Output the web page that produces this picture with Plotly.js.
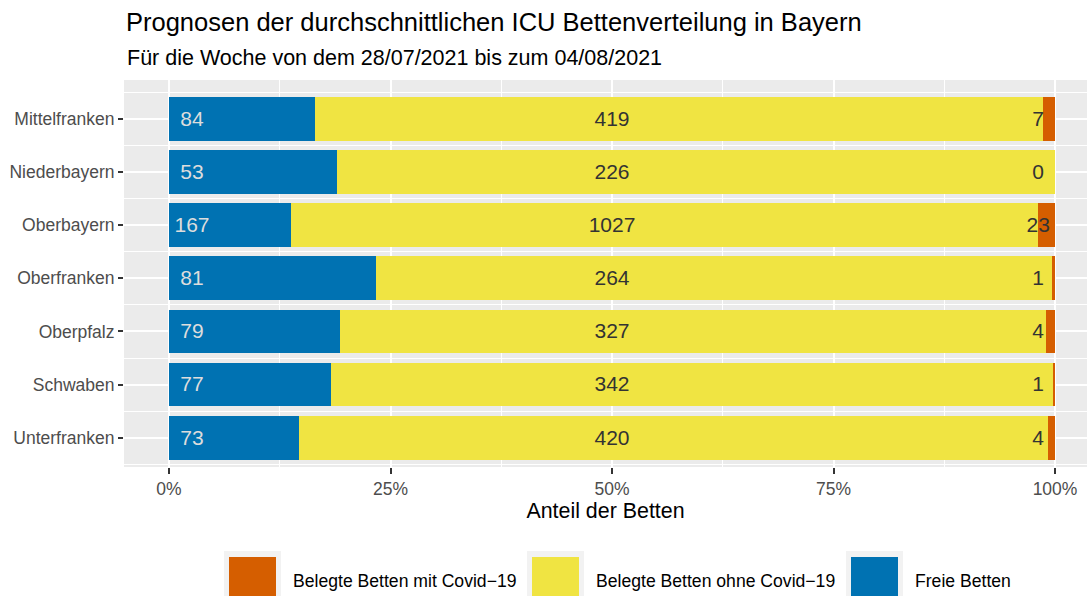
<!DOCTYPE html>
<html>
<head>
<meta charset="utf-8">
<script src="https://cdn.plot.ly/plotly-3.0.1.min.js"></script>
<style>html,body{margin:0;padding:0;background:#fff;}#chart{width:1087px;height:596px;}</style>
</head>
<body>
<div id="chart"></div>
<script>
// Data
const regions = ["Mittelfranken","Niederbayern","Oberbayern","Oberfranken","Oberpfalz","Schwaben","Unterfranken"];
const freieBetten = [84, 53, 167, 81, 79, 77, 73];
const belegteOhneCovid = [419, 226, 1027, 264, 327, 342, 420];
const belegteMitCovid = [7, 0, 23, 1, 4, 1, 4];
const xTickVals = [0, 0.25, 0.5, 0.75, 1];
const legendLabels = ["Belegte Betten mit Covid\u221219", "Belegte Betten ohne Covid\u221219", "Freie Betten"];

const colBlue = "#0072B2", colYellow = "#F0E442", colOrange = "#D55E00";
const W = 1087, H = 596;
const M = {l: 124, r: 0, t: 80, b: 129};
const pw = W - M.l - M.r, ph = H - M.t - M.b;
const px = x => (x - M.l) / pw;
const py = y => (H - M.b - y) / ph;

const idx = regions.map((_, i) => i);
const font = "Liberation Sans, Arial, Helvetica, sans-serif";

function barTrace(vals, name, color) {
  return {type: "bar", orientation: "h", x: vals, y: idx, name: name,
    marker: {color: color, line: {width: 0}}, width: 0.82, hoverinfo: "x+name", showlegend: false};
}
function textTrace(xpos, vals, color) {
  return {type: "scatter", mode: "text", x: idx.map(() => xpos), y: idx.map(i => i + 0.03),
    text: vals.map(String), textposition: "middle center",
    textfont: {family: font, size: 21, color: color},
    hoverinfo: "skip", showlegend: false, cliponaxis: false};
}

const data = [
  barTrace(freieBetten, legendLabels[2], colBlue),
  barTrace(belegteOhneCovid, legendLabels[1], colYellow),
  barTrace(belegteMitCovid, legendLabels[0], colOrange),
  textTrace(0.026, freieBetten, "#DDDDDD"),
  textTrace(0.5, belegteOhneCovid, "#333333"),
  textTrace(0.981, belegteMitCovid, "#333333")
];

// Legend (drawn like ggplot keys)
const legendColors = [colOrange, colYellow, colBlue];
const keyLeft = [224, 527, 846];
const shapes = [], annotations = [];
legendColors.forEach((c, i) => {
  const x0 = keyLeft[i];
  shapes.push({type: "rect", xref: "paper", yref: "paper", x0: px(x0), x1: px(x0 + 57), y0: py(551), y1: py(610),
    fillcolor: "#F2F2F2", line: {width: 0}, layer: "above"});
  shapes.push({type: "rect", xref: "paper", yref: "paper", x0: px(x0 + 5), x1: px(x0 + 52), y0: py(557), y1: py(605),
    fillcolor: c, line: {width: 0}, layer: "above"});
  annotations.push({xref: "paper", yref: "paper", x: px(x0 + 67), y: py(581), xanchor: "left", yanchor: "middle",
    text: legendLabels[i], showarrow: false, font: {family: font, size: 17.6, color: "#000000"}});
});
annotations.push({xref: "paper", yref: "paper", x: px(125), y: py(58), xanchor: "left", yanchor: "middle",
  text: "Für die Woche von dem 28/07/2021 bis zum 04/08/2021", showarrow: false,
  font: {family: font, size: 21.5, color: "#000000"}});

const layout = {
  width: W, height: H, margin: M,
  paper_bgcolor: "#FFFFFF", plot_bgcolor: "#EBEBEB",
  barmode: "stack", barnorm: "fraction",
  showlegend: false,
  title: {text: "Prognosen der durchschnittlichen ICU Bettenverteilung in Bayern",
    font: {family: font, size: 25.5, color: "#000000"},
    xref: "container", x: 126 / W, xanchor: "left", yref: "container", y: 1 - 22 / H, yanchor: "middle"},
  xaxis: {range: [-45 / 886, 1 + 32 / 886], tickvals: xTickVals, tickformat: ".0%",
    showgrid: true, gridcolor: "#FFFFFF", gridwidth: 2, zeroline: false,
    ticks: "outside", ticklen: 6, tickwidth: 2, tickcolor: "#333333",
    tickfont: {family: font, size: 17.5, color: "#4D4D4D"},
    minor: {dtick: 0.125, tick0: 0.125, showgrid: true, gridcolor: "#FFFFFF", gridwidth: 1, ticks: ""},
    showline: false, fixedrange: true,
    title: {text: "Anteil der Betten", font: {family: font, size: 21.4, color: "#000000"}, standoff: 0}},
  yaxis: {range: [6.55, -0.73], tickvals: idx, ticktext: regions,
    showgrid: true, gridcolor: "#FFFFFF", gridwidth: 2, zeroline: false,
    ticks: "outside", ticklen: 5, tickwidth: 2, tickcolor: "#333333",
    tickfont: {family: font, size: 17.5, color: "#4D4D4D"},
    minor: {dtick: 1, tick0: 0.5, showgrid: true, gridcolor: "#FFFFFF", gridwidth: 1, ticks: ""},
    showline: false, fixedrange: true},
  shapes: shapes, annotations: annotations
};

Plotly.newPlot("chart", data, layout, {displayModeBar: false, staticPlot: true});
</script>
</body>
</html>
